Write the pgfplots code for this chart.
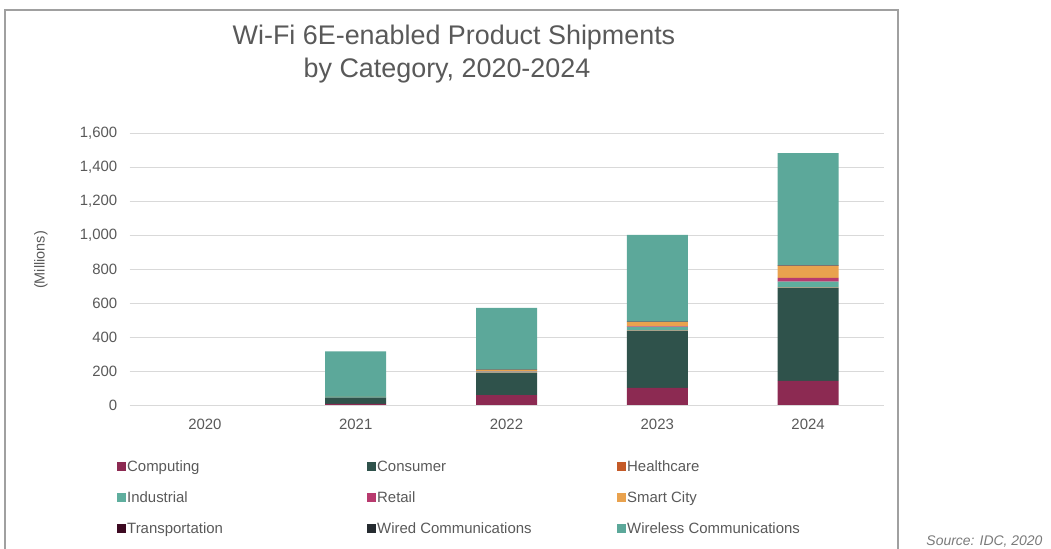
\documentclass[border=0pt]{standalone}
\usepackage{fontspec}
\setmainfont{Liberation Sans}
\usepackage{pgfplots}
\pgfplotsset{compat=1.18}
\usepackage{pgfplotstable}

\definecolor{cComp}{HTML}{8C2A52}
\definecolor{cCons}{HTML}{2F524B}
\definecolor{cHealth}{HTML}{C45A28}
\definecolor{cInd}{HTML}{5FAE9E}
\definecolor{cRet}{HTML}{B83A6E}
\definecolor{cSmart}{HTML}{E9A24E}
\definecolor{cTrans}{HTML}{3D0A22}
\definecolor{cWired}{HTML}{252B30}
\definecolor{cWless}{HTML}{5CA89A}
\definecolor{cGrid}{HTML}{D9D9D9}
\definecolor{cText}{HTML}{595959}
\definecolor{cFrame}{HTML}{A0A0A0}

\pgfplotstableread{
x Comp Cons Health Ind Ret Smart Trans Wired Wless
0 0 0 0 0 0 0 0 0 0
1 6 38 0 2 1 1 0 0 267
2 58 130 2 6 2 8 1 1 363
3 100 335 2 22 3 26 1 1 510
4 142 546 2 36 22 70 2 2 660
}\data

\newcommand{\lt}[1]{\makebox[239bp][l]{#1}}

\begin{document}
\begin{tikzpicture}
\useasboundingbox (0bp,0bp) rectangle (1051bp,549bp);
\draw[cFrame, line width=1.5bp] (5bp,-2bp) -- (5bp,539bp) -- (898bp,539bp) -- (898bp,-2bp);

\node[anchor=base, font=\fontsize{27}{33}\selectfont, text=cText] at (454bp,504bp) {Wi-Fi 6E-enabled Product Shipments};
\node[anchor=base, font=\fontsize{27}{33}\selectfont, text=cText] at (447bp,471bp) {by Category, 2020-2024};
\node[rotate=90, font=\fontsize{14.5}{17}\selectfont, text=cText] at (41bp,289bp) {(Millions)};
\node[anchor=base east, font=\fontsize{14}{17}\selectfont\itshape, text=cText!80] at (1046bp,4bp) {Source: IDC, 2020};

\begin{axis}[
  at={(129.5bp,144bp)}, anchor=south west,
  scale only axis, width=754bp, height=272bp,
  ybar stacked, bar width=61bp,
  xmin=-0.5, xmax=4.5, ymin=0, ymax=1600,
  xtick={0,1,2,3,4}, xticklabels={2020,2021,2022,2023,2024},
  ytick={0,200,...,1600},
  ymajorgrids, grid style={draw=cGrid, line width=0.9bp},
  axis line style={draw=none}, major tick length=0pt,
  /pgf/number format/assume math mode=true,
  /pgf/number format/1000 sep={,},
  tick label style={font=\fontsize{15}{18}\selectfont, text=cText},
  xticklabel style={anchor=north, inner sep=0pt, yshift=-13.5bp},
  yticklabel style={anchor=east, inner sep=0pt, xshift=-12bp},
  legend columns=3,
  legend cell align=left,
  legend style={at={(-0.0166,-0.204)}, anchor=north west, draw=none, fill=none,
    inner sep=0pt, row sep=20bp, column sep=0pt,
    font=\fontsize{15}{18}\selectfont, text=cText,
    nodes={text height=11bp, text depth=0pt, inner sep=0pt, inner xsep=1bp}},
  legend image code/.code={\fill[#1] (0bp,-4.5bp) rectangle (9bp,4.5bp);},
  every axis plot/.append style={draw=none},
]
\addplot[fill=cComp] table[x=x,y=Comp]{\data}; \addlegendentry{\lt{Computing}}
\addplot[fill=cCons] table[x=x,y=Cons]{\data}; \addlegendentry{\lt{Consumer}}
\addplot[fill=cHealth] table[x=x,y=Health]{\data}; \addlegendentry{\lt{Healthcare}}
\addplot[fill=cInd] table[x=x,y=Ind]{\data}; \addlegendentry{\lt{Industrial}}
\addplot[fill=cRet] table[x=x,y=Ret]{\data}; \addlegendentry{\lt{Retail}}
\addplot[fill=cSmart] table[x=x,y=Smart]{\data}; \addlegendentry{\lt{Smart City}}
\addplot[fill=cTrans] table[x=x,y=Trans]{\data}; \addlegendentry{\lt{Transportation}}
\addplot[fill=cWired] table[x=x,y=Wired]{\data}; \addlegendentry{\lt{Wired Communications}}
\addplot[fill=cWless] table[x=x,y=Wless]{\data}; \addlegendentry{\lt{Wireless Communications}}
\end{axis}
\end{tikzpicture}
\end{document}
